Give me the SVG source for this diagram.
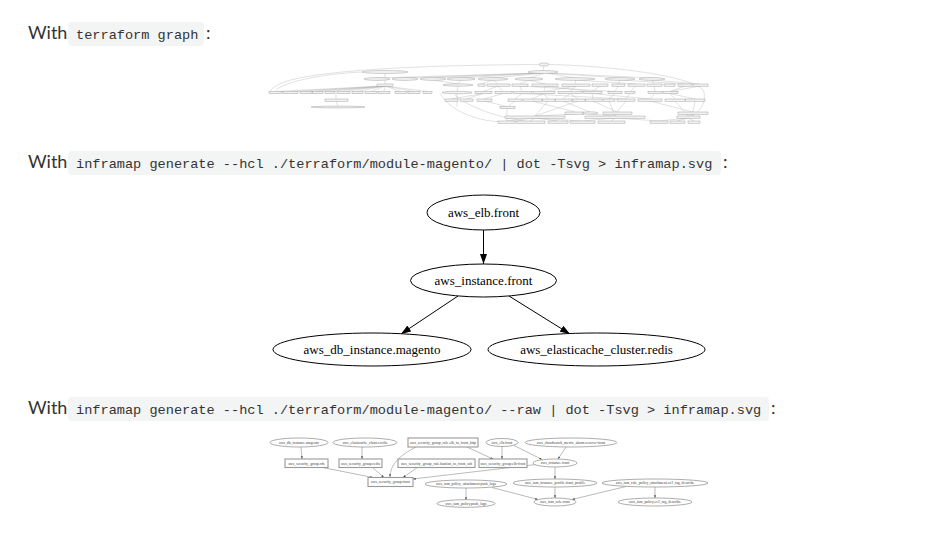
<svg xmlns="http://www.w3.org/2000/svg" width="937" height="541" viewBox="0 0 937 541">
<style>
.h{font-family:Lato,"Open Sans","Liberation Sans",sans-serif;font-size:18px;fill:#333}
.code{font-family:"Liberation Mono","DejaVu Sans Mono",monospace;font-size:13.6px;fill:#333}
.cbg{fill:#f3f4f4}
.tn{fill:#f2f2f2;stroke:#999;stroke-width:0.45}
.tl{fill:none;stroke:#b4b4b4;stroke-width:0.4}
.mn{fill:#fff;stroke:#000;stroke-width:1}
.mt{font-family:"Liberation Serif","Times New Roman",serif;font-size:13px;fill:#000;text-anchor:middle}
.me{fill:none;stroke:#000;stroke-width:1}
.bn{fill:#fff;stroke:#888;stroke-width:0.7}
.bb{fill:#fff;stroke:#999;stroke-width:1.1}
.bt{font-family:"Liberation Serif","Times New Roman",serif;font-size:3.8px;fill:#444;text-anchor:middle}
.be{fill:none;stroke:#777;stroke-width:0.5}
</style>
<defs>
<marker id="ma" viewBox="0 0 10 7" refX="10" refY="3.5" markerWidth="10" markerHeight="7" markerUnits="userSpaceOnUse" orient="auto"><path d="M0,0L10,3.5L0,7z" fill="#000"/></marker>
<marker id="sa" viewBox="0 0 10 7" refX="10" refY="3.5" markerWidth="2.8" markerHeight="2" markerUnits="userSpaceOnUse" orient="auto"><path d="M0,0L10,3.5L0,7z" fill="#444"/></marker>
</defs>
<rect width="937" height="541" fill="#fff"/>

<g id="heading1">
<text class="h" x="28" y="39">With</text>
<rect class="cbg" x="68" y="22" width="136" height="24" rx="4"/>
<text class="code" x="76" y="39">terraform graph</text>
<text class="h" x="206" y="39">:</text>
</g>
<g id="heading2">
<text class="h" x="28" y="168">With</text>
<rect class="cbg" x="68" y="151" width="653" height="24" rx="4"/>
<text class="code" x="76" y="168">inframap generate --hcl ./terraform/module-magento/ | dot -Tsvg &gt; inframap.svg</text>
<text class="h" x="723" y="168">:</text>
</g>
<g id="heading3">
<text class="h" x="28" y="414">With</text>
<rect class="cbg" x="68" y="397" width="701" height="24" rx="4"/>
<text class="code" x="76" y="414">inframap generate --hcl ./terraform/module-magento/ --raw | dot -Tsvg &gt; inframap.svg</text>
<text class="h" x="771" y="414">:</text>
</g>

<!-- Top: terraform graph (illegible miniature) -->
<g id="tf-graph">
<g id="tf-edges">
<path class="tl" d="M539,64.5 C440,65 300,69 276,86 C268,91 270,92.5 275,92.5"/>
<path class="tl" d="M362,72 C320,74 285,82 276,90"/>
<path class="tl" d="M455,95 C470,108 500,118 525,121"/>
<path class="tl" d="M440,93 C450,112 480,122 505,122"/>
<path class="tl" d="M549,64.5 C620,66 700,78 704,92 C706,104 700,112 690,117"/>
<path class="tl" d="M544,66 L543,71 M540,73 L377,78 M541,73 L405,78 M542,73 L433,78 M543,73 L461,78 M544,73 L493,78 M545,73 L529,78 M546,73 L575,78 M547,73 L620,78 M548,73 L652,78"/>
<path class="tl" d="M385,73 L385,84 M433,80 L458,84 M461,80 L458,84 M493,80 L498,84 M529,80 L545,84 M575,80 L576,84 M620,80 L618,84 M652,80 L654,84 M575,80 L636,84 M620,80 L685,84 M652,80 L700,84 M529,80 L520,84 M493,80 L481,84"/>
<path class="tl" d="M385,86 L275,91.5 M385,86 L290,91.5 M385,86 L306,91.5 M385,86 L317,91.5 M385,86 L330,91.5 M385,86 L343,91.5 M385,86 L357,91.5 M385,86 L371,91.5 M385,86 L384,91.5 M385,86 L401,91.5 M385,86 L414,91.5 M385,86 L427,91.5"/>
<path class="tl" d="M458,86 L457,91.5 M498,86 L483,91.5 M498,86 L503,91.5 M520,86 L522,91.5 M545,86 L544,91.5 M576,86 L570,91.5 M600,86 L592,91.5 M618,86 L615,91.5 M636,86 L630,91.5 M654,86 L655,91.5 M685,86 L670,91.5 M700,86 L670,91.5 M576,86 L545,91.5 M545,86 L592,91.5 M520,86 L615,91.5"/>
<path class="tl" d="M336,93.5 L336,99 M457,93.5 L457,106.5 M483,93.5 L451,99 M483,93.5 L466,99 M503,93.5 L484,99 M522,93.5 L515,99 M544,93.5 L532,99 M544,93.5 L548,99 M570,93.5 L563,99 M570,93.5 L578,99 M592,93.5 L593,99 M615,93.5 L609,99 M630,93.5 L626,99 M655,93.5 L650,99 M670,93.5 L675,99 M670,93.5 L695,99 M592,93.5 L650,99 M522,93.5 L626,99"/>
<path class="tl" d="M336,101 L338,106.5 M484,101 L507,106.5 M515,101 L508,106.5 M532,101 L575,112 M563,101 L590,112 M593,101 L617,112 M626,101 L617,112 M650,101 L693,112 M695,101 L693,112 M578,101 L535,116 M609,101 L615,116 M675,101 L688,116 M548,101 L535,116"/>
<path class="tl" d="M507,108 L507,121 M575,114 L535,116 M590,114 L615,116 M617,114 L615,116 M693,114 L688,116 M535,118 L506,121 M535,118 L530,121 M535,118 L558,121 M535,118 L582,121 M615,118 L611,121 M615,118 L582,121 M688,118 L659,121 M688,118 L677,121 M688,118 L694,121 M615,118 L659,121"/>
</g>
<g id="tf-nodes">
<ellipse class="tn" cx="544" cy="64.5" rx="5" ry="1.6"/>
<ellipse class="tn" cx="385" cy="72" rx="23" ry="1.5"/>
<ellipse class="tn" cx="543" cy="72" rx="15" ry="1.5"/>
<ellipse class="tn" cx="377" cy="79" rx="13" ry="1.4"/>
<ellipse class="tn" cx="405" cy="79" rx="13" ry="1.4"/>
<ellipse class="tn" cx="433" cy="79" rx="13" ry="1.4"/>
<ellipse class="tn" cx="461" cy="79" rx="14" ry="1.4"/>
<ellipse class="tn" cx="493" cy="79" rx="15" ry="1.4"/>
<ellipse class="tn" cx="529" cy="79" rx="14" ry="1.4"/>
<ellipse class="tn" cx="575" cy="79" rx="20" ry="1.4"/>
<ellipse class="tn" cx="620" cy="79" rx="15" ry="1.4"/>
<ellipse class="tn" cx="652" cy="79" rx="13" ry="1.4"/>
<rect class="tn" x="377" y="84" width="16" height="2.2"/>
<ellipse class="tn" cx="458" cy="85" rx="15" ry="1.2"/>
<rect class="tn" x="478" y="84" width="7" height="2.2"/>
<rect class="tn" x="487" y="84" width="23" height="2.2"/>
<rect class="tn" x="512" y="84" width="16" height="2.2"/>
<rect class="tn" x="532" y="84" width="26" height="2.2"/>
<rect class="tn" x="562" y="84" width="28" height="2.2"/>
<rect class="tn" x="592" y="84" width="16" height="2.2"/>
<rect class="tn" x="612" y="84" width="13" height="2.2"/>
<rect class="tn" x="628" y="84" width="17" height="2.2"/>
<rect class="tn" x="647" y="84" width="15" height="2.2"/>
<rect class="tn" x="664" y="84" width="11" height="2.2"/>
<rect class="tn" x="678" y="84" width="14" height="2.2"/>
<rect class="tn" x="693" y="84" width="15" height="2.2"/>
<rect class="tn" x="269" y="91.5" width="13" height="2.2"/>
<rect class="tn" x="283" y="91.5" width="15" height="2.2"/>
<rect class="tn" x="300" y="91.5" width="12" height="2.2"/>
<rect class="tn" x="312.5" y="91.5" width="10.5" height="2.2"/>
<rect class="tn" x="325" y="91.5" width="10" height="2.2"/>
<rect class="tn" x="337" y="91.5" width="13" height="2.2"/>
<rect class="tn" x="352" y="91.5" width="11" height="2.2"/>
<rect class="tn" x="365" y="91.5" width="12" height="2.2"/>
<rect class="tn" x="378" y="91.5" width="12" height="2.2"/>
<rect class="tn" x="395" y="91.5" width="12" height="2.2"/>
<rect class="tn" x="408" y="91.5" width="12" height="2.2"/>
<rect class="tn" x="423" y="91.5" width="9" height="2.2"/>
<ellipse class="tn" cx="457" cy="92.5" rx="15" ry="1.2"/>
<rect class="tn" x="475" y="91.5" width="17" height="2.2"/>
<rect class="tn" x="495" y="91.5" width="17" height="2.2"/>
<rect class="tn" x="513" y="91.5" width="19" height="2.2"/>
<rect class="tn" x="533" y="91.5" width="22" height="2.2"/>
<rect class="tn" x="558" y="91.5" width="24" height="2.2"/>
<rect class="tn" x="583" y="91.5" width="19" height="2.2"/>
<rect class="tn" x="608" y="91.5" width="14" height="2.2"/>
<rect class="tn" x="625" y="91.5" width="10" height="2.2"/>
<rect class="tn" x="648" y="91.5" width="14" height="2.2"/>
<rect class="tn" x="663" y="91.5" width="15" height="2.2"/>
<rect class="tn" x="325" y="99" width="23" height="2.2"/>
<rect class="tn" x="445" y="99" width="13" height="2.2"/>
<rect class="tn" x="460" y="99" width="13" height="2.2"/>
<rect class="tn" x="477" y="99" width="15" height="2.2"/>
<rect class="tn" x="508" y="99" width="14" height="2.2"/>
<rect class="tn" x="523" y="99" width="19" height="2.2"/>
<rect class="tn" x="542.5" y="99" width="12.5" height="2.2"/>
<rect class="tn" x="555.5" y="99" width="16.5" height="2.2"/>
<rect class="tn" x="572.5" y="99" width="12.5" height="2.2"/>
<rect class="tn" x="585.5" y="99" width="16.5" height="2.2"/>
<rect class="tn" x="603" y="99" width="12" height="2.2"/>
<rect class="tn" x="617" y="99" width="18" height="2.2"/>
<rect class="tn" x="638" y="99" width="24" height="2.2"/>
<rect class="tn" x="665" y="99" width="20" height="2.2"/>
<rect class="tn" x="685.5" y="99" width="19.5" height="2.2"/>
<ellipse class="tn" cx="338" cy="107" rx="27" ry="0.9"/>
<rect class="tn" x="500" y="106.5" width="15" height="2.2"/>
<rect class="tn" x="565" y="112" width="19" height="2.2"/>
<ellipse class="tn" cx="590" cy="113" rx="8" ry="1.2"/>
<rect class="tn" x="603" y="112" width="29" height="2.2"/>
<rect class="tn" x="678" y="112" width="30" height="2.2"/>
<rect class="tn" x="505" y="116" width="60" height="2.2"/>
<rect class="tn" x="585" y="116" width="60" height="2.2"/>
<rect class="tn" x="677" y="116" width="23" height="2.2"/>
<rect class="tn" x="498" y="121" width="17" height="2.2"/>
<rect class="tn" x="516" y="121" width="29" height="2.2"/>
<rect class="tn" x="548" y="121" width="20" height="2.2"/>
<rect class="tn" x="570" y="121" width="25" height="2.2"/>
<rect class="tn" x="598" y="121" width="27" height="2.2"/>
<rect class="tn" x="650" y="121" width="18" height="2.2"/>
<rect class="tn" x="670" y="121" width="15" height="2.2"/>
<rect class="tn" x="688" y="121" width="12" height="2.2"/>
</g>
</g>

<!-- Middle: inframap graph -->
<g id="mid-connectors">
<line class="me" x1="483.5" y1="230" x2="483.5" y2="264" marker-end="url(#ma)"/>
<line class="me" x1="458" y1="296" x2="401" y2="334" marker-end="url(#ma)"/>
<line class="me" x1="509" y1="296" x2="570" y2="334" marker-end="url(#ma)"/>
</g>
<g id="aws_elb.front">
<ellipse class="mn" cx="483.5" cy="212.5" rx="56.5" ry="17.5"/>
<text class="mt" x="483.5" y="216.5">aws_elb.front</text>
</g>
<g id="aws_instance.front">
<ellipse class="mn" cx="483.5" cy="280.5" rx="73" ry="16.5"/>
<text class="mt" x="483.5" y="284.5">aws_instance.front</text>
</g>
<g id="aws_db_instance.magento">
<ellipse class="mn" cx="372" cy="349.5" rx="99" ry="16.5"/>
<text class="mt" x="372" y="353.5">aws_db_instance.magento</text>
</g>
<g id="aws_elasticache_cluster.redis">
<ellipse class="mn" cx="596.5" cy="349.5" rx="108.5" ry="16.5"/>
<text class="mt" x="596.5" y="353.5">aws_elasticache_cluster.redis</text>
</g>

<!-- Bottom: inframap raw graph -->
<g id="raw-connectors">
<line class="be" x1="301" y1="447" x2="302" y2="459" marker-end="url(#sa)"/>
<line class="be" x1="362" y1="447" x2="362" y2="459" marker-end="url(#sa)"/>
<path class="be" d="M416,447 C400,455 390,465 390,477" marker-end="url(#sa)"/>
<line class="be" x1="467" y1="447" x2="493" y2="459" marker-end="url(#sa)"/>
<line class="be" x1="502" y1="446" x2="502" y2="459" marker-end="url(#sa)"/>
<line class="be" x1="514" y1="445.5" x2="542" y2="459.5" marker-end="url(#sa)"/>
<line class="be" x1="566" y1="447" x2="558" y2="459" marker-end="url(#sa)"/>
<line class="be" x1="320" y1="467" x2="373" y2="477.5" marker-end="url(#sa)"/>
<line class="be" x1="372" y1="467" x2="384" y2="477.5" marker-end="url(#sa)"/>
<line class="be" x1="418" y1="467" x2="403" y2="477.5" marker-end="url(#sa)"/>
<line class="be" x1="536" y1="464.5" x2="413" y2="479" marker-end="url(#sa)"/>
<line class="be" x1="555" y1="467" x2="555" y2="479" marker-end="url(#sa)"/>
<line class="be" x1="555" y1="487" x2="555" y2="498" marker-end="url(#sa)"/>
<line class="be" x1="466" y1="488" x2="466" y2="500" marker-end="url(#sa)"/>
<line class="be" x1="492" y1="487.5" x2="538" y2="499.5" marker-end="url(#sa)"/>
<line class="be" x1="626" y1="486.5" x2="572" y2="499.5" marker-end="url(#sa)"/>
<line class="be" x1="655" y1="487" x2="655" y2="498" marker-end="url(#sa)"/>
</g>
<g id="aws_db_instance.magento-raw"><ellipse class="bn" cx="299" cy="442.5" rx="29" ry="4.5"/><text class="bt" x="299" y="443.8">aws_db_instance.magento</text></g>
<g id="aws_elasticache_cluster.redis-raw"><ellipse class="bn" cx="365" cy="442.5" rx="32" ry="4.5"/><text class="bt" x="365" y="443.8">aws_elasticache_cluster.redis</text></g>
<g id="aws_security_group_rule.elb_to_front_http"><rect class="bb" x="408" y="438" width="70" height="9"/><text class="bt" x="443" y="443.8">aws_security_group_rule.elb_to_front_http</text></g>
<g id="aws_elb.front-raw"><ellipse class="bn" cx="502" cy="442.5" rx="16" ry="4"/><text class="bt" x="502" y="443.8">aws_elb.front</text></g>
<g id="aws_cloudwatch_metric_alarm.recover-front"><ellipse class="bn" cx="571" cy="442.5" rx="46" ry="4.5"/><text class="bt" x="571" y="443.8">aws_cloudwatch_metric_alarm.recover-front</text></g>
<g id="aws_security_group.rds"><rect class="bb" x="285" y="459" width="43" height="8.5"/><text class="bt" x="306.5" y="464.5">aws_security_group.rds</text></g>
<g id="aws_security_group.redis"><rect class="bb" x="339" y="459" width="43" height="8.5"/><text class="bt" x="360.5" y="464.5">aws_security_group.redis</text></g>
<g id="aws_security_group_rule.bastion_to_front_ssh"><rect class="bb" x="398" y="459" width="77" height="8.5"/><text class="bt" x="436.5" y="464.5">aws_security_group_rule.bastion_to_front_ssh</text></g>
<g id="aws_security_group.elb-front"><rect class="bb" x="479" y="459" width="48" height="8.5"/><text class="bt" x="503" y="464.5">aws_security_group.elb-front</text></g>
<g id="aws_instance.front-raw"><ellipse class="bn" cx="555" cy="463" rx="22" ry="4"/><text class="bt" x="555" y="464.3">aws_instance.front</text></g>
<g id="aws_security_group.front"><rect class="bb" x="368" y="477.5" width="45" height="9"/><text class="bt" x="390.5" y="483.3">aws_security_group.front</text></g>
<g id="aws_iam_policy_attachment.push_logs"><ellipse class="bn" cx="466" cy="484" rx="41" ry="4"/><text class="bt" x="466" y="485.3">aws_iam_policy_attachment.push_logs</text></g>
<g id="aws_iam_instance_profile.front_profile"><ellipse class="bn" cx="555" cy="483" rx="42" ry="4"/><text class="bt" x="555" y="484.3">aws_iam_instance_profile.front_profile</text></g>
<g id="aws_iam_role_policy_attachment.ec2_tag_describe"><ellipse class="bn" cx="655" cy="483" rx="53" ry="4"/><text class="bt" x="655" y="484.3">aws_iam_role_policy_attachment.ec2_tag_describe</text></g>
<g id="aws_iam_policy.push_logs"><ellipse class="bn" cx="466" cy="503.5" rx="29" ry="3.8"/><text class="bt" x="466" y="504.8">aws_iam_policy.push_logs</text></g>
<g id="aws_iam_role.front"><ellipse class="bn" cx="555" cy="502" rx="21" ry="4"/><text class="bt" x="555" y="503.3">aws_iam_role.front</text></g>
<g id="aws_iam_policy.ec2_tag_describe"><ellipse class="bn" cx="655" cy="502" rx="37" ry="4"/><text class="bt" x="655" y="503.3">aws_iam_policy.ec2_tag_describe</text></g>
</svg>
